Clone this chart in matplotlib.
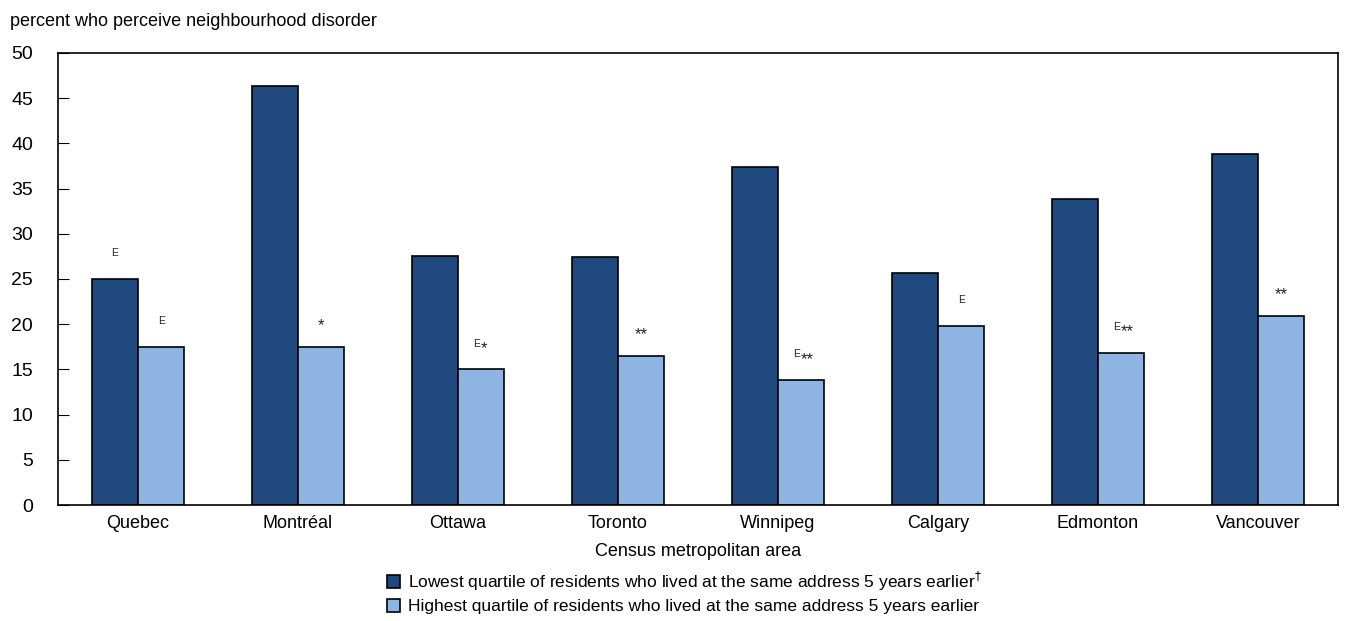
import numpy as np
import matplotlib.pyplot as plt

plt.rcParams['font.family'] = ['Liberation Sans', 'DejaVu Sans']

cities = ["Quebec", "Montréal", "Ottawa", "Toronto", "Winnipeg",
          "Calgary", "Edmonton", "Vancouver"]
lowest = [25.0, 46.3, 27.5, 27.4, 37.4, 25.7, 33.9, 38.8]
highest = [17.5, 17.5, 15.0, 16.5, 13.8, 19.8, 16.8, 20.9]
lowest_notes = ["E", "", "", "", "", "", "", ""]
highest_notes = ["E", "*", "E*", "**", "E**", "E", "E**", "**"]

dark = "#1F487C"
light = "#8DB4E2"

fig = plt.figure(figsize=(13.5, 6.21), dpi=100)
ax = fig.add_axes([58 / 1350, 1 - 505 / 621, 1280 / 1350, 452 / 621])

x = np.arange(len(cities)) + 0.5
w = 0.29
b1 = ax.bar(x - w / 2, lowest, w, color=dark, edgecolor="black", linewidth=1.2,
            label="Lowest quartile of residents who lived at the same address 5 years earlier$^{\\dagger}$")
b2 = ax.bar(x + w / 2, highest, w, color=light, edgecolor="black", linewidth=1.2,
            label="Highest quartile of residents who lived at the same address 5 years earlier")


def note(xpos, val, txt):
    if not txt:
        return
    # small "E" flag, then the significance stars
    e = txt.startswith("E")
    stars = txt[1:] if e else txt
    if e and not stars:
        ax.text(xpos, val + 2.3, "E", ha="center", va="bottom", fontsize=7.5, color="#222222")
    elif not e:
        ax.text(xpos, val + 1.5, stars, ha="center", va="bottom", fontsize=12, color="#222222")
    else:
        ax.text(xpos - 0.005, val + 2.3, "E", ha="right", va="bottom", fontsize=7.5, color="#222222")
        ax.text(xpos - 0.005, val + 1.5, stars, ha="left", va="bottom", fontsize=12, color="#222222")


for xi, v, t in zip(x - w / 2, lowest, lowest_notes):
    note(xi, v, t)
for xi, v, t in zip(x + w / 2, highest, highest_notes):
    note(xi, v, t)

ax.set_xlim(0, 8)
ax.set_ylim(0, 50)
ax.set_yticks(range(0, 51, 5))
ax.set_xticks(x)
ax.set_xticklabels(cities, fontsize=13)
ax.tick_params(axis="y", direction="in", length=8, labelsize=14, pad=18)
ax.tick_params(axis="x", length=0, pad=7)
for s in ax.spines.values():
    s.set_linewidth(1.2)

ax.set_xlabel("Census metropolitan area", fontsize=13, labelpad=8)
fig.text(10 / 1350, 1 - 21 / 621, "percent who perceive neighbourhood disorder",
         fontsize=13, va="center", ha="left")

fig.legend(handles=[b1, b2], loc="upper left", bbox_to_anchor=(378 / 1350, 1 - 561 / 621),
           frameon=False, fontsize=12.5, handlelength=0.75, handleheight=0.75,
           handletextpad=0.5, labelspacing=0.35, borderpad=0)

fig.savefig("out.png", dpi=100)
